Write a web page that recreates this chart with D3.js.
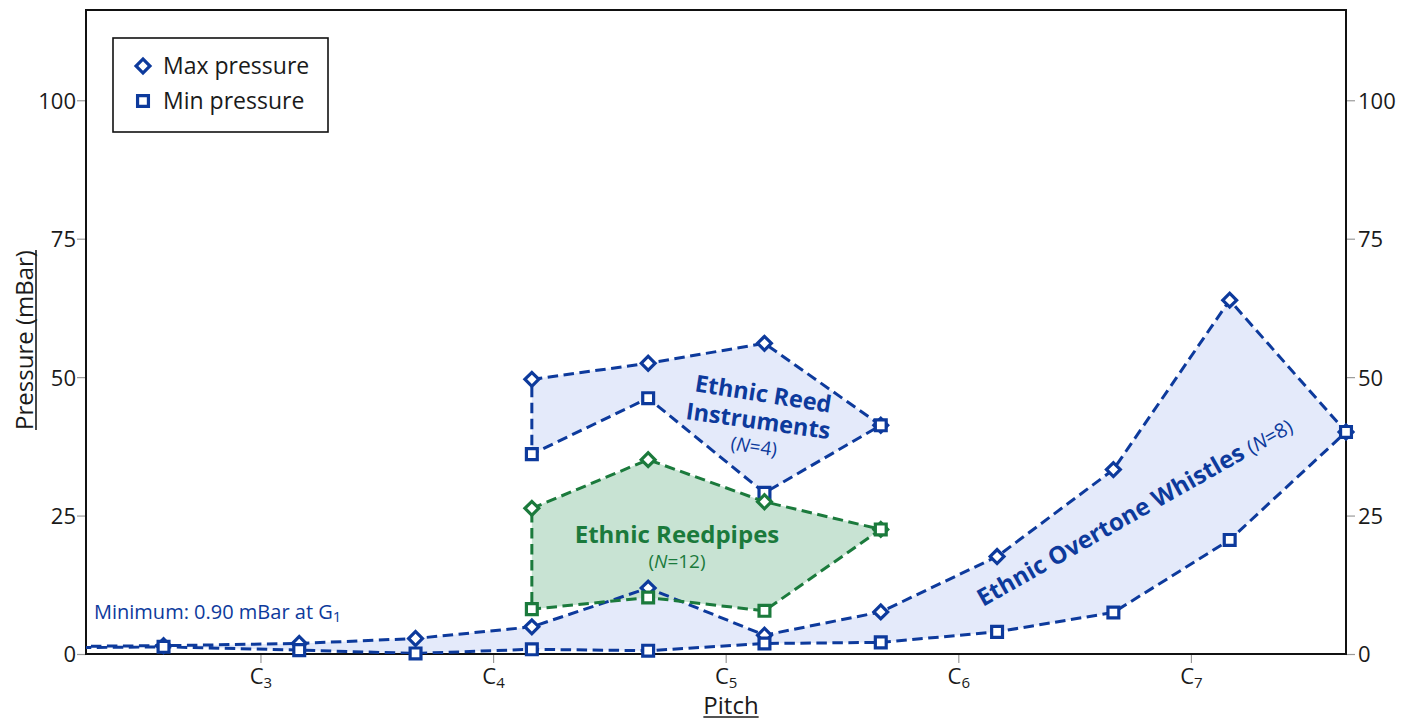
<!DOCTYPE html>
<html>
<head>
<meta charset="utf-8">
<script src="https://cdn.jsdelivr.net/npm/d3@7"></script>
<style>
  html, body { margin: 0; padding: 0; background: #fff; }
  svg { display: block; font-family: "Open Sans", "Noto Sans", sans-serif; }
</style>
</head>
<body>
<svg id="chart" width="1417" height="720"></svg>
<script>
// ---------------- DATA ----------------
const whistleNotes = ["G1","G2","D3","G#3","D4","G#4","D5","G#5","D6","G#6","D7","G#7"];
const whistleMax   = [1.2, 1.5, 1.9, 2.8, 4.9, 11.9, 3.4, 7.6, 17.6, 33.3, 63.9, 40.1];
const whistleMin   = [0.9, 1.3, 0.7, 0.1, 0.85, 0.6, 1.9, 2.1, 4.0, 7.5, 20.6, 40.1];

const reedNotes = ["D4","G#4","D5","G#5"];
const reedMax   = [49.6, 52.5, 56.1, 41.3];
const reedMin   = [36.1, 46.2, 29.1, 41.3];

const pipeNotes = ["D4","G#4","D5","G#5"];
const pipeMax   = [26.3, 35.1, 27.5, 22.5];
const pipeMin   = [8.1, 10.2, 7.8, 22.5];

const yTicks = [0, 25, 50, 75, 100];
const xTickNotes = ["C3","C4","C5","C6","C7"];
const xDomainNotes = ["D#2","G#7"];
const yMax = 116.3;

// ---------------- HELPERS ----------------
const semi = {C:0, D:2, E:4, F:5, G:7, A:9, B:11};
function noteVal(n) {
  const m = n.match(/^([A-G])(#?)(-?\d+)$/);
  return +m[3] + (semi[m[1]] + (m[2] ? 1 : 0)) / 12;
}

const BLUE = "#0d3a9c", BLUE_FILL = "#e4eafa";
const GREEN = "#1b7a3c", GREEN_FILL = "#c8e3d3";

const svg = d3.select("#chart");
const L = 86, R = 1346, T = 10, B = 654;

const x = d3.scaleLinear().domain(xDomainNotes.map(noteVal)).range([L, R]);
const y = d3.scaleLinear().domain([0, yMax]).range([B, T]);

svg.append("defs").append("clipPath").attr("id", "plotclip")
  .append("rect").attr("x", L).attr("y", T).attr("width", R - L).attr("height", B - T);

// ---------------- AXES ----------------
const tickColor = "#9a9a9a";
const gl = svg.append("g").attr("transform", `translate(${L},0)`)
  .call(d3.axisLeft(y).tickValues(yTicks).tickSize(9).tickPadding(1));
const gr = svg.append("g").attr("transform", `translate(${R},0)`)
  .call(d3.axisRight(y).tickValues(yTicks).tickSize(9).tickPadding(3));
const gb = svg.append("g").attr("transform", `translate(0,${B})`)
  .call(d3.axisBottom(x).tickValues(xTickNotes.map(noteVal)).tickSize(9).tickFormat(""));

[gl, gr, gb].forEach(g => {
  g.select(".domain").remove();
  g.selectAll(".tick line").attr("stroke", tickColor).attr("stroke-width", 1.2);
  g.selectAll(".tick text").attr("font-size", 22).attr("fill", "#1a1a1a")
    .attr("font-family", "'Open Sans', sans-serif");
});
gl.selectAll(".tick text").attr("dy", "0.36em");
gr.selectAll(".tick text").attr("dy", "0.36em");

gb.selectAll(".tick").each(function(d, i) {
  const t = d3.select(this).select("text")
    .attr("y", 30).attr("dy", 0).attr("text-anchor", "middle");
  const name = xTickNotes[i];
  t.append("tspan").text(name[0]);
  t.append("tspan").attr("font-size", 15).attr("dy", 4).text(name.slice(1));
});

svg.append("rect").attr("x", L).attr("y", T).attr("width", R - L).attr("height", B - T)
  .attr("fill", "none").attr("stroke", "#111").attr("stroke-width", 2);

// axis titles
const ylab = svg.append("text")
  .attr("transform", "translate(33,340) rotate(-90)")
  .attr("text-anchor", "middle").attr("font-size", 24).attr("fill", "#1a1a1a")
  .text("Pressure (mBar)");
const yl = ylab.node().getComputedTextLength();
svg.append("line").attr("transform", "translate(33,340) rotate(-90)")
  .attr("x1", -yl / 2).attr("x2", yl / 2).attr("y1", 3).attr("y2", 3)
  .attr("stroke", "#1a1a1a").attr("stroke-width", 1.6);

const xlab = svg.append("text").attr("x", 731).attr("y", 714)
  .attr("text-anchor", "middle").attr("font-size", 24).attr("fill", "#1a1a1a").text("Pitch");
const xl = xlab.node().getComputedTextLength();
svg.append("line").attr("x1", 731 - xl / 2).attr("x2", 731 + xl / 2)
  .attr("y1", 717).attr("y2", 717).attr("stroke", "#1a1a1a").attr("stroke-width", 1.6);

// ---------------- SERIES ----------------
function group(notes, maxV, minV, color, fill) {
  const maxPts = notes.map((n, i) => [noteVal(n), maxV[i]]);
  const minPts = notes.map((n, i) => [noteVal(n), minV[i]]);
  return {maxPts, minPts, color, fill};
}
const groups = [
  group(whistleNotes, whistleMax, whistleMin, BLUE, BLUE_FILL),
  group(reedNotes, reedMax, reedMin, BLUE, BLUE_FILL),
  group(pipeNotes, pipeMax, pipeMin, GREEN, GREEN_FILL)
];
const line = d3.line().x(d => x(d[0])).y(d => y(d[1]));
const poly = g => g.maxPts.concat(g.minPts.slice().reverse());

const fillLayer = svg.append("g").attr("clip-path", "url(#plotclip)");
groups.forEach(g => {
  fillLayer.append("path").attr("d", line(poly(g)) + "Z").attr("fill", g.fill).attr("stroke", "none");
});

const [d0, d1] = x.domain();
const inDomain = p => p[0] >= d0 - 1e-6 && p[0] <= d1 + 1e-6;
const diamond = d3.symbol().type(d3.symbolSquare).size(96);
const square = d3.symbol().type(d3.symbolSquare).size(118);

groups.forEach(g => {
  const lg = svg.append("g").attr("clip-path", "url(#plotclip)");
  lg.append("path").attr("d", line(poly(g)) + "Z")
    .attr("fill", "none").attr("stroke", g.color).attr("stroke-width", 3)
    .attr("stroke-dasharray", "10.5,5.5");
  const mg = svg.append("g");
  mg.selectAll(".mx").data(g.maxPts.filter(inDomain)).join("path")
    .attr("d", diamond)
    .attr("transform", d => `translate(${x(d[0])},${y(d[1])}) rotate(45)`)
    .attr("fill", "#fff").attr("stroke", g.color).attr("stroke-width", 3.2);
  mg.selectAll(".mn").data(g.minPts.filter(inDomain)).join("path")
    .attr("d", square)
    .attr("transform", d => `translate(${x(d[0])},${y(d[1])})`)
    .attr("fill", "#fff").attr("stroke", g.color).attr("stroke-width", 3.2);
});

// ---------------- LABELS ----------------
const lab = svg.append("g").attr("font-family", "'Open Sans', sans-serif");
function nText(parent, num, size) {
  parent.append("tspan").attr("font-size", size).attr("font-weight", "normal").text("(");
  parent.append("tspan").attr("font-size", size).attr("font-weight", "normal").attr("font-style", "italic").text("N");
  parent.append("tspan").attr("font-size", size).attr("font-weight", "normal").text("=" + num + ")");
}
lab.append("text").attr("transform", "translate(762,402) rotate(9)").attr("text-anchor", "middle")
  .attr("font-size", 23.5).attr("font-weight", "bold").attr("fill", BLUE).text("Ethnic Reed");
lab.append("text").attr("transform", "translate(757,429) rotate(8)").attr("text-anchor", "middle")
  .attr("font-size", 23.5).attr("font-weight", "bold").attr("fill", BLUE).text("Instruments");
nText(lab.append("text").attr("transform", "translate(753,453) rotate(8)").attr("text-anchor", "middle")
  .attr("fill", BLUE), 4, 19);

lab.append("text").attr("x", 677).attr("y", 543).attr("text-anchor", "middle")
  .attr("font-size", 24).attr("font-weight", "bold").attr("fill", GREEN).text("Ethnic Reedpipes");
nText(lab.append("text").attr("x", 677).attr("y", 568).attr("text-anchor", "middle")
  .attr("fill", GREEN), 12, 19);

const ow = lab.append("text").attr("transform", "translate(983,607) rotate(-29.5)")
  .attr("fill", BLUE);
ow.append("tspan").attr("font-size", 24).attr("font-weight", "bold").text("Ethnic Overtone Whistles ");
nText(ow, 8, 20);

const mn = lab.append("text").attr("x", 94).attr("y", 619).attr("font-size", 20).attr("fill", BLUE);
mn.append("tspan").text("Minimum: 0.90 mBar at G");
mn.append("tspan").attr("font-size", 15).attr("dy", 3).text("1");

// ---------------- LEGEND ----------------
const leg = svg.append("g");
leg.append("rect").attr("x", 113).attr("y", 38).attr("width", 215).attr("height", 94)
  .attr("fill", "#fff").attr("stroke", "#111").attr("stroke-width", 1.6);
leg.append("path").attr("d", diamond).attr("transform", "translate(143,66) rotate(45)")
  .attr("fill", "#fff").attr("stroke", BLUE).attr("stroke-width", 3.2);
leg.append("path").attr("d", square).attr("transform", "translate(143,101)")
  .attr("fill", "#fff").attr("stroke", BLUE).attr("stroke-width", 3.2);
leg.append("text").attr("x", 163).attr("y", 74).attr("font-size", 23).attr("fill", "#1a1a1a").text("Max pressure");
leg.append("text").attr("x", 163).attr("y", 109).attr("font-size", 23).attr("fill", "#1a1a1a").text("Min pressure");
</script>
</body>
</html>
